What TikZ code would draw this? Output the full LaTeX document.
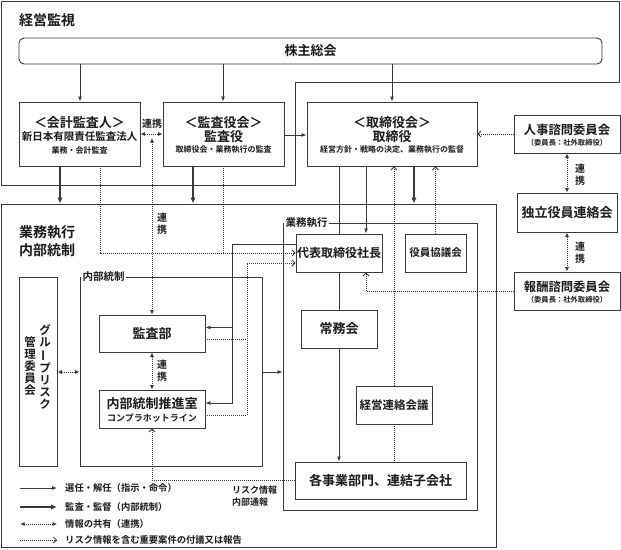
\documentclass[tikz,border=0pt]{standalone}
\usepackage{fontspec}
\setmainfont{Noto Sans CJK JP}[BoldFont={Noto Sans CJK JP Bold}]
\usepackage{graphicx}
\usetikzlibrary{arrows.meta}
\newcommand\fsz[1]{\fontsize{#1}{#1}\selectfont}
\newcommand\bx[7][]{\node[box,minimum width={#4-#2},minimum height={#5-#3},#1] (#6) at ({(#2+#4)/2},{(#3+#5)/2}) {#7};}
\definecolor{lc}{HTML}{3A3A3A}
\definecolor{tc}{HTML}{1A1A1A}
\begin{document}
\begin{tikzpicture}[x=1pt,y=-1pt,
  every node/.append style={text=tc},
  box/.style={draw=lc,line width=0.9pt,fill=white,inner sep=0pt,align=center},
  txt/.style={inner sep=0pt,align=center},
  ln/.style={draw=lc,line width=0.9pt},
  sel/.style={ln,-{Latex[length=5pt,width=4pt]}},
  thk/.style={draw=lc,line width=2.2pt,-{Latex[length=6pt,width=5.5pt]}},
  dotl/.style={draw=lc,line width=0.8pt,dash pattern=on 1pt off 1pt},
  share/.style={dotl,{Latex[length=4.5pt,width=4pt]}-{Latex[length=4.5pt,width=4pt]}},
  report/.style={dotl,-{Straight Barb[length=3pt,width=6pt]}},
  flabel/.style={inner sep=1.5pt,fill=white,anchor=west,font=\bfseries\fsz{10.5}}
]
\useasboundingbox (0,0) rectangle (621,549);
% outer frames
\draw[draw=lc,line width=1pt] (1,1) -- (619,1) -- (619,82) -- (295,82) -- (295,185) -- (1,185) -- cycle;
\bx[fill=none,line width=1pt]{1}{204}{496}{547.5}{lowerbox}{}
\bx[fill=none]{80}{277}{262}{466}{naibuframe}{}
\bx[fill=none]{283}{223}{477}{510}{gyomuframe}{}
\node[flabel] (nfl) at (81,277) {内部統制};
\node[flabel] (gfl) at (284,223) {業務執行};
% titles
\node[txt,anchor=west,font=\bfseries\fsz{14}] (t1) at (19,20) {経営監視};
\node[txt,anchor=west,align=left,font=\bfseries\fontsize{14}{18}\selectfont] (t2) at (19,241) {業務執行\\内部統制};
% boxes
\bx[rounded corners=5pt,font=\bfseries\fsz{13}]{19}{38}{602}{64}{kabu}{株主総会}
\bx{19}{102}{140}{166}{kaikei}{}
\bx{163}{102}{284}{166}{kansayaku}{}
\bx{307}{102}{477}{166}{torishimari}{}
\bx{514}{115}{620}{153}{jinji}{}
\bx[font=\bfseries\fsz{13}]{517}{193}{617}{232}{dokuritsu}{独立役員連絡会}
\bx{514}{272}{620}{310}{houshu}{}
\bx{19}{277}{57}{466}{group}{}
\bx[font=\bfseries\fsz{13}]{99}{315}{205}{352}{kansabu}{監査部}
\bx{99}{390}{205}{428}{naibu}{}
\bx[font=\bfseries\fsz{12}]{296}{234}{382}{272}{daihyo}{代表取締役社長}
\bx[font=\bfseries\fsz{10.5}]{405}{234}{466}{272}{yakuin}{役員協議会}
\bx[font=\bfseries\fsz{13}]{301}{310}{377}{348}{jomu}{常務会}
\bx[font=\bfseries\fsz{11.5}]{356}{386}{432}{424}{keiei}{経営連絡会議}
\bx[font=\bfseries\fsz{13}]{295}{462}{466}{499}{kaku}{各事業部門、連結子会社}
% box texts
\node[txt,font=\bfseries\fsz{13}] (kaikeiA) at (79.5,123) {＜会計監査人＞};
\node[txt,font=\bfseries\fsz{10.5}] (kaikeiB) at (79.5,137) {新日本有限責任監査法人};
\node[txt,font=\bfseries\fsz{8}] (kaikeiC) at (79.5,150) {業務・会計監査};
\node[txt,font=\bfseries\fsz{13}] (kansaA) at (223.5,123) {＜監査役会＞};
\node[txt,font=\bfseries\fsz{13}] (kansaB) at (223.5,137) {監査役};
\node[txt,font=\bfseries\fsz{8}] (kansaC) at (223.5,150) {取締役会・業務執行の監査};
\node[txt,font=\bfseries\fsz{13}] (toriA) at (392,123) {＜取締役会＞};
\node[txt,font=\bfseries\fsz{13}] (toriB) at (392,137) {取締役};
\node[txt,font=\bfseries\fsz{8}] (toriC) at (392,150) {経営方針・戦略の決定、業務執行の監督};
\node[txt,font=\bfseries\fsz{12.3}] (jinjiA) at (567,130) {人事諮問委員会};
\node[txt,font=\bfseries\fsz{7.3}] (jinjiB) at (567,143) {（委員長：社外取締役）};
\node[txt,font=\bfseries\fsz{12.3}] (houshuA) at (567,287) {報酬諮問委員会};
\node[txt,font=\bfseries\fsz{7.3}] (houshuB) at (567,300) {（委員長：社外取締役）};
\node[txt,font=\bfseries\fsz{13}] (naibuA) at (152,404) {内部統制推進室};
\node[txt,font=\bfseries\fsz{9}] (naibuB) at (152,418) {コンプラホットライン};
\node[txt,font=\bfseries\fontsize{11.5}{12}\selectfont] (g1) at (45,367) {グ\\ル\\\rotatebox[origin=c]{90}{ー}\\プ\\リ\\ス\\ク};
\node[txt,font=\bfseries\fontsize{11.5}{12}\selectfont] (g2) at (30,366) {管\\理\\委\\員\\会};
% 連携 labels
\node[txt,font=\bfseries\fsz{10}] (ren1) at (152,124) {連携};
\node[txt,font=\bfseries\fontsize{10}{12}\selectfont] (ren2) at (162,224) {連\\携};
\node[txt,font=\bfseries\fontsize{10}{12}\selectfont] (ren3) at (162,371) {連\\携};
\node[txt,font=\bfseries\fontsize{10}{12}\selectfont] (ren4) at (580,175) {連\\携};
\node[txt,font=\bfseries\fontsize{10}{12}\selectfont] (ren5) at (580,253) {連\\携};
\node[txt,anchor=west,font=\bfseries\fsz{9}] (risk1) at (232,490) {リスク情報};
\node[txt,anchor=west,font=\bfseries\fsz{9}] (risk2) at (232,502) {内部通報};
% connectors: shareholders
\draw[sel] (80,0 |- kabu.south) -- (80,0 |- kaikei.north);
\draw[sel] (223,0 |- kabu.south) -- (223,0 |- kansayaku.north);
\draw[sel] (392,0 |- kabu.south) -- (392,0 |- torishimari.north);
\draw[sel] (kansayaku.east |- 0,135) -- (torishimari.west |- 0,135);
\draw[share] (kaikei.east |- 0,134) -- (kansayaku.west |- 0,134);
\coordinate (renT) at (152,138);
\draw[share] (renT) -- (renT |- kansabu.north);
\draw[share] (kansabu.south) -- (naibu.north);
% thick
\draw[thk] (60,0 |- kaikei.south) -- (60,0 |- lowerbox.north);
\draw[thk] (193,0 |- kansayaku.south) -- (193,0 |- lowerbox.north);
\draw[thk] (414,0 |- torishimari.south) -- (414,0 |- lowerbox.north);
% reports to president
\draw[report] (100,0 |- kaikei.south) |- (daihyo.west);
\draw[dotl] (223,0 |- kansayaku.south) -- (223,0 |- daihyo.west);
\coordinate (d1) at (247,263);
\draw[report] ([yshift=-6pt]naibu.east) -| (d1) -- (daihyo.west |- d1);
\draw[dotl] ([yshift=-6pt]kansabu.east) coordinate (k1) -- (d1 |- k1);
% president to audit / internal control
\coordinate (j1) at (232,244);
\coordinate (k2) at ([yshift=6pt]kansabu.east);
\draw[sel] (daihyo.west |- j1) -- (j1) |- ([yshift=6pt]naibu.east);
\draw[sel] (j1 |- k2) -- (k2);
% board to execution
\draw[ln] (339,0 |- torishimari.south) -- (339,0 |- daihyo.north);
\draw[sel] (366,0 |- torishimari.south) -- (366,0 |- daihyo.north);
\draw[ln] (daihyo.south) -- (jomu.north);
\draw[sel] (jomu.south) -- (jomu.south |- kaku.north);
\draw[report] (yakuin.north) -- (yakuin.north |- torishimari.south);
\draw[report] (keiei.north) -- (keiei.north |- torishimari.south);
\draw[dotl] (keiei.south) -- (keiei.south |- kaku.north);
% committees
\draw[report] (houshu.west) -| (366,0 |- daihyo.south);
\draw[report] (jinji.west) -- (torishimari.east |- jinji.west);
\draw[share] (jinji.south) -- (jinji.south |- dokuritsu.north);
\draw[share] (houshu.north |- dokuritsu.south) -- (houshu.north);
% group risk / frames
\draw[share] (group.east |- 0,372) -- (naibuframe.west |- 0,372);
\draw[sel] (naibuframe.east |- 0,372) -- (gyomuframe.west |- 0,372);
\draw[report] (kaku.west) -| (naibu.south);
% legend
\coordinate (la1) at (20,488); \coordinate (lb1) at (57,488);
\coordinate (la2) at (20,507); \coordinate (lb2) at (57,507);
\coordinate (la3) at (20,524); \coordinate (lb3) at (57,524);
\coordinate (la4) at (20,540); \coordinate (lb4) at (57,540);
\draw[sel] (la1) -- (lb1);
\draw[thk] (la2) -- (lb2);
\draw[share] (la3) -- (lb3);
\draw[report] (la4) -- (lb4);
\node[txt,anchor=west,font=\bfseries\fsz{9.3}] (lt1) at (65,488) {選任・解任（指示・命令）};
\node[txt,anchor=west,font=\bfseries\fsz{9.3}] (lt2) at (65,507) {監査・監督（内部統制）};
\node[txt,anchor=west,font=\bfseries\fsz{9.3}] (lt3) at (65,524) {情報の共有（連携）};
\node[txt,anchor=west,font=\bfseries\fsz{9.3}] (lt4) at (65,540) {リスク情報を含む重要案件の付議又は報告};
\end{tikzpicture}
\end{document}
